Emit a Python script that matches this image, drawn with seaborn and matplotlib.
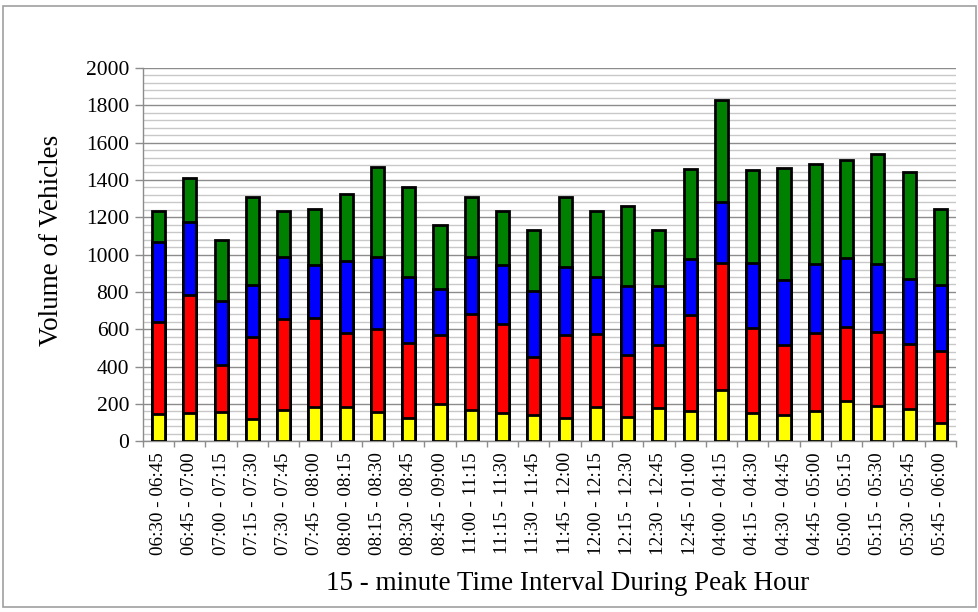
import numpy as np
import matplotlib
matplotlib.use("Agg")
import matplotlib.pyplot as plt
from matplotlib.patches import Rectangle
from matplotlib.ticker import MultipleLocator, FixedLocator
import seaborn as sns

# 15-minute intervals (morning, midday, evening peaks)
INTERVALS = [
    "06:30 - 06:45", "06:45 - 07:00", "07:00 - 07:15", "07:15 - 07:30",
    "07:30 - 07:45", "07:45 - 08:00", "08:00 - 08:15", "08:15 - 08:30",
    "08:30 - 08:45", "08:45 - 09:00", "11:00 - 11:15", "11:15 - 11:30",
    "11:30 - 11:45", "11:45 - 12:00", "12:00 - 12:15", "12:15 - 12:30",
    "12:30 - 12:45", "12:45 - 01:00", "04:00 - 04:15", "04:15 - 04:30",
    "04:30 - 04:45", "04:45 - 05:00", "05:00 - 05:15", "05:15 - 05:30",
    "05:30 - 05:45", "05:45 - 06:00",
]

# segment volumes, bottom to top
yellow_vol = [147, 152, 159, 118, 166, 181, 184, 159, 122, 199, 166, 154, 141,
              127, 182, 131, 179, 161, 277, 154, 141, 161, 218, 191, 175, 97]
red_vol    = [492, 633, 252, 440, 487, 481, 396, 440, 404, 370, 517, 476, 313,
              442, 390, 332, 338, 517, 680, 452, 376, 419, 394, 394, 347, 384]
blue_vol   = [429, 390, 340, 277, 335, 284, 384, 390, 354, 247, 306, 316, 351,
              365, 308, 367, 317, 299, 326, 351, 345, 368, 370, 367, 349, 358]
green_vol  = [166, 238, 328, 475, 248, 297, 362, 482, 483, 345, 317, 288, 327,
              376, 353, 431, 300, 483, 545, 498, 603, 537, 524, 585, 573, 403]

LAYERS = [(yellow_vol, "#FFFF00"), (red_vol, "#FF0000"),
          (blue_vol, "#0000FF"), (green_vol, "#008000")]

sns.set_theme(style="white")
plt.rcParams["font.family"] = ["Liberation Serif", "DejaVu Serif"]

fig = plt.figure(figsize=(9.79, 6.12), dpi=100)
ax = fig.add_axes([0.146, 0.279, 0.8305, 0.610])

# stacked bars: draw cumulative totals from the top layer down
cum = np.cumsum([np.array(v) for v, _ in LAYERS], axis=0)
for i in range(len(LAYERS) - 1, -1, -1):
    sns.barplot(x=INTERVALS, y=cum[i], color=LAYERS[i][1], saturation=1,
                width=0.42, edgecolor="black", linewidth=2.0, ax=ax, zorder=3)

ax.set_ylim(0, 2000)
ax.set_xlim(-0.5, len(INTERVALS) - 0.5)
ax.yaxis.set_major_locator(MultipleLocator(200))
ax.yaxis.set_minor_locator(MultipleLocator(40))
ax.grid(which="major", axis="y", color="#8c8c8c", linewidth=1.0, zorder=0)
ax.grid(which="minor", axis="y", color="#c8c8c8", linewidth=1.0, zorder=0)
ax.grid(axis="x", visible=False)
ax.set_axisbelow(True)

for s in ["top", "right"]:
    ax.spines[s].set_visible(False)
for s in ["left", "bottom"]:
    ax.spines[s].set_color("#8c8c8c")
    ax.spines[s].set_linewidth(1.0)

# category-boundary ticks on x, labels at centres
ax.xaxis.set_minor_locator(FixedLocator(np.arange(-0.5, len(INTERVALS), 1.0)))
ax.tick_params(axis="x", which="minor", bottom=True, length=4, width=1,
               color="#8c8c8c")
ax.tick_params(axis="x", which="major", bottom=True, length=0, pad=8,
               labelsize=13.8, labelcolor="black")
plt.setp(ax.get_xticklabels(), rotation=90, ha="center", va="top")
ax.tick_params(axis="y", which="major", left=True, length=6, width=1,
               color="#8c8c8c", pad=4, labelsize=15.5, labelcolor="black")
ax.tick_params(axis="y", which="minor", left=False)

ax.set_xlabel("15 - minute Time Interval During Peak Hour", fontsize=19.5,
              color="black")
ax.xaxis.label.set_va("center")
ax.xaxis.set_label_coords(0.522, -0.381)
ax.set_ylabel("Volume of Vehicles", fontsize=19.5, color="black")
ax.yaxis.label.set_va("center")
ax.yaxis.set_label_coords(-0.113, 0.539)

# outer chart frame
fig.patches.append(Rectangle((0.003, 0.008), 0.994, 0.982,
                             transform=fig.transFigure, fill=False,
                             edgecolor="#a0a0a0", linewidth=1.2))

fig.savefig("out.png", dpi=100)
